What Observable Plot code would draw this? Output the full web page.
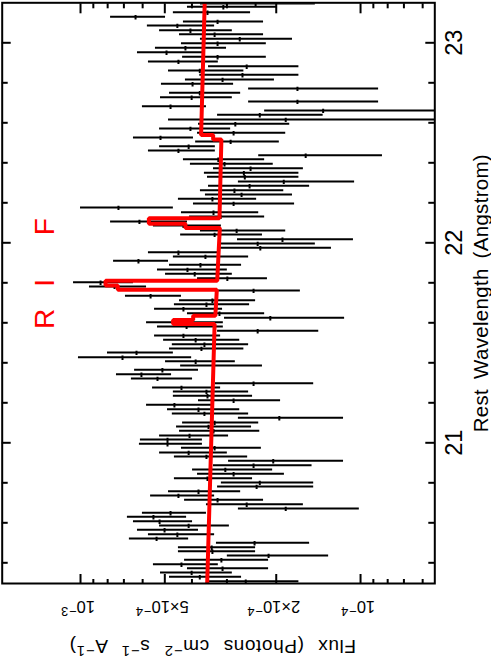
<!DOCTYPE html>
<html><head><meta charset="utf-8">
<script src="https://cdn.jsdelivr.net/npm/d3@7"></script>
<script src="https://cdn.jsdelivr.net/npm/@observablehq/plot@0.6"></script>
<style>
html,body{margin:0;padding:0;background:#fff;overflow:hidden;width:491px;height:660px;}
#wrap{position:absolute;left:0;top:0;width:660px;height:491px;transform-origin:0 0;transform:translateY(660px) rotate(-90deg);}
</style></head><body><div id="wrap"></div>
<script>
// Rest wavelength of each spectral bin (Angstrom)
const wavelength = [23.197,23.180,23.153,23.130,23.107,23.087,23.063,23.043,23.020,22.998,
22.975,22.953,22.930,22.907,22.883,22.862,22.840,22.817,22.795,22.772,
22.750,22.728,22.707,22.683,22.662,22.640,22.617,22.595,22.572,22.550,
22.527,22.507,22.483,22.462,22.438,22.418,22.395,22.373,22.350,22.330,
22.307,22.285,22.263,22.242,22.220,22.197,22.177,22.153,22.132,22.107,
22.087,22.062,22.042,22.018,21.997,21.975,21.953,21.932,21.910,21.890,
21.867,21.845,21.823,21.803,21.782,21.762,21.735,21.713,21.693,21.670,
21.648,21.625,21.603,21.582,21.560,21.537,21.515,21.493,21.472,21.452,
21.428,21.408,21.387,21.365,21.343,21.322,21.298,21.277,21.257,21.235,
21.213,21.190,21.168,21.147,21.125,21.102,21.082,21.060,21.037,21.017,
20.995,20.975,20.952,20.932,20.910,20.888,20.867,20.845,20.823,20.802,
20.782,20.758,20.737,20.715,20.693,20.672,20.650,20.630,20.608,20.587,
20.565,20.543,20.522,20.500,20.478,20.458,20.437,20.415,20.393,20.373,
20.352,20.330,20.308];
// Measured flux (units of 1e-4 photons cm^-2 s^-1 A^-1)
const fluxValue = [2.37,3.09,3.52,6.36,3.24,4.51,4.05,3.32,2.70,3.24,
4.22,4.93,3.24,4.47,2.55,3.75,2.64,3.11,3.98,1.68,
3.75,4.01,1.68,4.77,1.36,2.29,1.85,2.80,4.05,2.84,
5.18,2.91,4.11,4.47,1.57,3.22,3.06,2.47,2.61,2.59,
1.88,2.49,2.82,2.66,3.38,2.84,7.32,3.35,3.16,6.16,
4.29,2.77,3.32,1.90,2.33,2.28,4.47,3.58,6.21,3.73,
4.15,3.91,2.99,8.48,7.56,2.41,5.62,3.38,3.55,4.29,
3.19,2.10,4.54,4.18,2.33,4.29,3.88,3.61,3.70,6.31,
7.08,3.88,3.35,5.10,6.06,5.31,2.41,4.36,3.55,3.52,
2.84,4.62,3.79,3.61,1.95,3.32,3.49,3.35,4.08,4.89,
4.89,3.32,4.11,3.55,2.05,2.41,3.04,2.84,3.52,2.29,
2.35,3.79,4.47,3.24,2.55,1.85,4.77,5.49,5.22,4.11,
5.01,4.51,5.35,2.39,3.40,3.38,2.13,3.14,4.36,3.11,
4.01,3.75,2.57];
// Upper end of the error bar (1e-4 units)
const fluxUpper = [3.73,4.15,4.66,7.81,4.29,5.77,5.22,4.43,3.73,4.36,
5.40,6.26,4.32,5.72,3.49,4.85,3.75,4.22,5.14,2.51,
4.81,5.18,2.51,6.01,2.20,3.24,4.85,3.79,5.22,3.82,
6.47,3.88,5.22,5.72,2.31,4.29,4.05,3.35,3.61,3.52,
2.73,3.49,3.73,3.58,4.47,3.95,10.0,4.36,4.08,7.81,
5.49,3.73,4.39,2.75,3.16,3.16,5.72,4.66,7.62,4.81,
5.31,4.97,3.82,10.59,9.29,3.22,6.91,4.43,4.62,5.44,
4.15,3.06,5.81,5.31,3.24,5.44,5.05,4.70,4.81,8.01,
10.17,4.97,4.39,6.41,7.44,6.58,3.30,5.53,4.66,4.66,
3.79,5.81,4.89,4.70,2.73,4.32,4.54,4.43,5.22,6.11,
6.16,4.36,5.22,4.62,2.96,3.35,3.98,3.82,4.62,3.14,
3.24,4.85,5.62,4.25,3.55,2.73,6.01,6.80,6.47,5.22,
6.26,5.72,6.69,3.27,4.47,4.47,2.99,4.25,5.49,4.15,
5.18,4.81,3.49];
// Lower end of the error bar (1e-4 units)
const fluxLower = [1.45,1.98,2.47,4.97,2.22,3.32,2.87,2.22,1.75,2.17,
3.01,3.58,2.17,3.22,1.66,2.61,1.66,2.03,2.84,0.862,
2.68,2.87,0.862,3.55,0.50,1.36,0.50,1.79,2.91,1.85,
3.95,1.95,3.30,3.30,0.835,2.20,2.05,1.60,1.66,1.66,
1.05,1.52,1.88,1.75,2.35,1.72,4.66,2.31,2.20,4.15,
3.14,1.85,2.24,1.06,1.45,1.27,3.24,2.51,4.85,2.66,
2.99,2.87,2.15,6.47,5.81,1.64,4.36,2.37,2.49,3.11,
2.20,1.14,3.09,3.09,1.41,3.16,2.70,2.51,2.61,4.66,
4.01,2.80,2.24,3.79,4.73,3.98,1.47,3.16,2.51,2.43,
1.93,3.38,2.70,2.51,1.15,2.31,2.45,2.29,2.96,3.67,
3.67,2.26,2.99,2.53,1.15,1.49,2.06,1.87,2.43,1.47,
1.47,2.68,3.32,2.22,1.60,1.01,3.55,4.18,3.98,2.94,
3.79,3.32,4.11,1.52,2.37,2.37,1.30,2.13,3.22,2.13,
2.87,2.66,1.66];
const binHalfWidth = 0.011;
// Model (red) vertices
const modelWave = [20.29,21.5935,21.5935,21.6135,21.6135,21.635,21.635,21.765,21.765,21.7865,21.7865,21.810,21.810,
22.0745,22.0745,22.095,22.095,22.123,22.123,22.5165,22.5165,22.5385,22.5385,23.21];
const modelFlux = [3.53,3.32,4.67,4.67,3.96,3.96,3.30,3.26,7.36,7.36,8.14,8.14,3.25,
3.18,4.22,4.22,5.70,5.70,3.19,3.14,3.36,3.36,3.71,3.60];
// Line identifications
const lineNames = ["R","I","F"];
const lineWave = [21.62,21.80,22.08];
// Axis ticks
const waveMajor = [21,22,23];
const waveMajorLabels = ["21","22","23"];
const waveMinor = [20.4,20.6,20.8,21.2,21.4,21.6,21.8,22.2,22.4,22.6,22.8];
const fluxMajor = [1e-3,5e-4,2e-4,1e-4];
const fluxMajorLabels = ["10^{−3}","5×10^{−4}","2×10^{−4}","10^{−4}"];
const fluxMinor = [9e-4,8e-4,7e-4,6e-4,4e-4,3e-4,9e-5,8e-5,7e-5,6e-5];
const xTitle = "Rest Wavelength (Angstrom)";
const yTitle = "Flux (Photons cm^{−2} s^{−1} A^{−1})";

const W = 660, H = 491, mL = 76, mR = 3.3, mT = 1.7, mB = 56.7;
const innerH = H - mT - mB, innerW = W - mL - mR;
const pts = wavelength.map((w, i) => ({w, v: fluxValue[i]*1e-4, hi: fluxUpper[i]*1e-4, lo: fluxLower[i]*1e-4}));
const model = modelWave.map((w, i) => ({w, f: modelFlux[i]*1e-4}));

const plot = Plot.plot({
  width: W, height: H, marginLeft: mL, marginRight: mR, marginTop: mT, marginBottom: mB,
  x: {domain: [20.2965, 23.2], axis: null},
  y: {type: "log", domain: [5.43e-5, 1.904e-3], axis: null},
  style: {fontFamily: "'Liberation Sans', Arial, sans-serif", background: "white", color: "black"},
  marks: [
    Plot.ruleX(pts, {x: "w", y1: "lo", y2: "hi", stroke: "black", strokeWidth: 2, clip: true}),
    Plot.ruleY(pts, {y: "v", x1: d => d.w - binHalfWidth, x2: d => d.w + binHalfWidth, stroke: "black", strokeWidth: 2, clip: true}),
    Plot.line(model, {x: "w", y: "f", stroke: "#ff0000", strokeWidth: 4, clip: true, strokeLinejoin: "miter"}),
    Plot.frame({stroke: "black", strokeWidth: 2}),
    Plot.tickX(waveMajor, {x: d => d, insetTop: innerH - 9, strokeWidth: 2}),
    Plot.tickX(waveMajor, {x: d => d, insetBottom: innerH - 9, strokeWidth: 2}),
    Plot.tickX(waveMinor, {x: d => d, insetTop: innerH - 6, strokeWidth: 2}),
    Plot.tickX(waveMinor, {x: d => d, insetBottom: innerH - 6, strokeWidth: 2}),
    Plot.tickY(fluxMajor, {y: d => d, insetRight: innerW - 10, strokeWidth: 2}),
    Plot.tickY(fluxMajor, {y: d => d, insetLeft: innerW - 10, strokeWidth: 2}),
    Plot.tickY(fluxMinor, {y: d => d, insetRight: innerW - 5, strokeWidth: 2}),
    Plot.tickY(fluxMinor, {y: d => d, insetLeft: innerW - 5, strokeWidth: 2}),
    Plot.text(waveMajorLabels, {x: (d, i) => waveMajor[i], text: d => d, frameAnchor: "bottom", textAnchor: "middle", lineAnchor: "bottom", dy: 27, fontSize: 23.5, fill: "black"}),
    Plot.text(fluxMajorLabels, {y: (d, i) => fluxMajor[i], text: d => d, frameAnchor: "left", textAnchor: "middle", rotate: -90, lineAnchor: "bottom", dx: -17.7, dy: -3, fontSize: 16.5, fill: "black"}),
    Plot.text([xTitle], {text: d => d, frameAnchor: "bottom", textAnchor: "middle", lineAnchor: "bottom", dy: 53.5, fontSize: 20.5, fill: "black"}),
    Plot.text([yTitle], {text: d => d, frameAnchor: "left", textAnchor: "middle", rotate: -90, lineAnchor: "bottom", dx: -56, dy: -6, fontSize: 19, fill: "black"}),
    Plot.text(lineNames, {x: (d, i) => lineWave[i], text: d => d, frameAnchor: "top", textAnchor: "middle", lineAnchor: "bottom", dy: 51.3, fill: "#ff0000", fontSize: 28})
  ]
});
document.getElementById("wrap").appendChild(plot);

// turn ^{...} into raised tspans
d3.select(plot).selectAll("text").each(function () {
  const t = this.textContent;
  if (!t.includes("^{")) return;
  const fs = parseFloat(getComputedStyle(this).fontSize) || 16;
  const parts = t.split(/(\^\{[^}]*\})/).filter(s => s.length);
  this.textContent = "";
  const sel = d3.select(this);
  let raised = false;
  for (const p of parts) {
    if (p.startsWith("^{")) {
      sel.append("tspan").attr("font-size", fs * 0.78).attr("dy", -0.36 * fs).attr("letter-spacing", 1).text(p.slice(2, -1));
      raised = true;
    } else {
      const ts = sel.append("tspan").text(p);
      if (raised) { ts.attr("dy", 0.36 * fs); raised = false; }
    }
  }
});
// wider spacing of the titles
d3.select(plot).selectAll("text").each(function () {
  const t = this.textContent;
  if (t.startsWith("Rest")) { this.setAttribute("word-spacing", 4); this.setAttribute("letter-spacing", 0.3); }
  if (t.startsWith("Flux")) { this.setAttribute("word-spacing", 8); this.setAttribute("letter-spacing", 0.6); }
});
</script>
</body></html>
